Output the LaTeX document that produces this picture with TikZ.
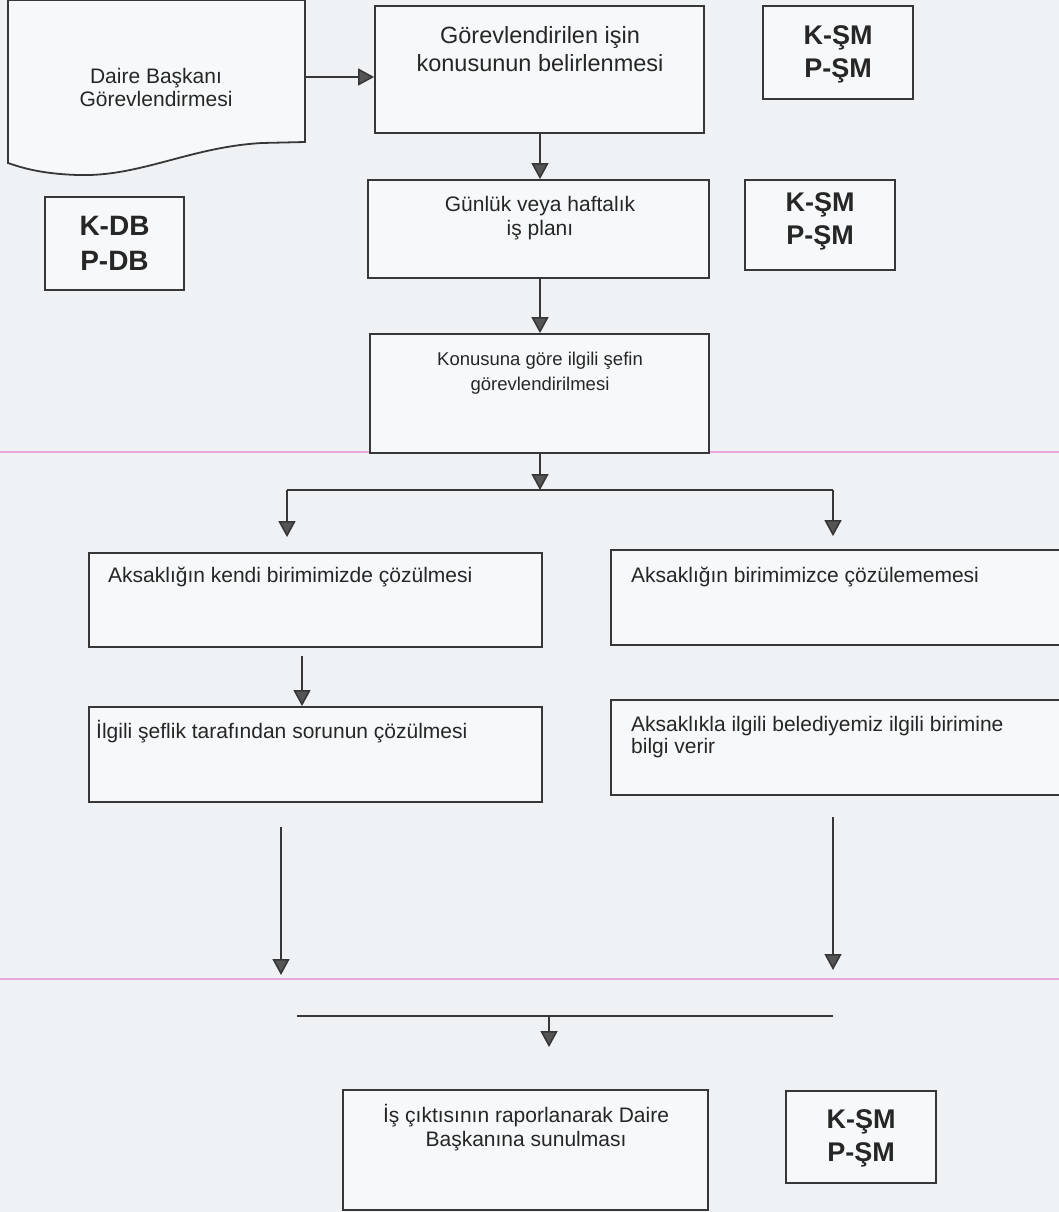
\documentclass[tikz,border=0pt]{standalone}
\usepackage{fontspec}
\setmainfont{Liberation Sans}
\usetikzlibrary{arrows.meta}
\definecolor{bg}{RGB}{239,242,245}
\definecolor{boxfill}{RGB}{247,248,249}
\definecolor{linec}{RGB}{55,55,55}
\definecolor{tipc}{RGB}{85,85,85}
\definecolor{txt}{RGB}{38,38,38}
\definecolor{pinkline}{RGB}{234,165,220}
\begin{document}
\begin{tikzpicture}[x=1pt,y=-1pt,
  boxst/.style={draw=linec, fill=boxfill, line width=1.8pt, inner sep=0pt},
  arr/.style={draw=linec, line width=1.6pt, -{Triangle[width=17pt,length=16pt,fill=tipc]}},
  ln/.style={draw=linec, line width=1.6pt},
  txtst/.style={text=txt, inner sep=0pt, font=\fontsize{21}{23}\selectfont},
  codest/.style={text=txt, inner sep=0pt, align=center, font=\fontsize{27}{33}\selectfont\bfseries}]
\useasboundingbox (0,0) rectangle (1059,1212);
\fill[bg] (0,0) rectangle (1059,1212);
\clip (0,0) rectangle (1059,1212);
% scan lines
\draw[pinkline, line width=1.2pt] (0,452) -- (1059,452);
\draw[pinkline, line width=1.2pt] (0,979) -- (1059,979);
% document shape
\node[inner sep=0pt, minimum width=297pt, minimum height=154pt] (doc) at (156.5,77) {};
\draw[draw=linec, fill=boxfill, line width=1.8pt]
  (8,0) -- (305,0) -- (305,142) -- (262,143)
  .. controls (190,147) and (140,177) .. (78,175)
  .. controls (45,174) and (25,169) .. (8,163) -- cycle;
\node[txtst, align=center] (doct) at (156,87) {Daire Başkanı\\Görevlendirmesi};
% main column
\node[boxst, minimum width=329pt, minimum height=127pt] (b1) at (539.5,69.5) {};
\node[txtst, align=center, font=\fontsize{23.5}{28}\selectfont] (b1t) at (540,49) {Görevlendirilen işin\\konusunun belirlenmesi};
\node[boxst, minimum width=341pt, minimum height=98pt] (b2) at (538.5,229) {};
\node[txtst, align=center, font=\fontsize{21}{24}\selectfont] (b2t) at (540,218) {Günlük veya haftalık\\iş planı};
\node[boxst, minimum width=339pt, minimum height=119pt] (b3) at (539.5,393.5) {};
\node[txtst, align=center, font=\fontsize{18.5}{25}\selectfont] (b3t) at (540,373) {Konusuna göre ilgili şefin\\görevlendirilmesi};
% code boxes
\node[boxst, minimum width=150pt, minimum height=93pt] (k1) at (838,52.5) {};
\node[codest] (k1t) at (838,54) {K-ŞM\\P-ŞM};
\node[boxst, minimum width=150pt, minimum height=90pt] (k2) at (820,225) {};
\node[codest] (k2t) at (820,221) {K-ŞM\\P-ŞM};
\node[boxst, minimum width=139pt, minimum height=93pt] (kdb) at (114.5,243.5) {};
\node[codest, font=\fontsize{28}{35}\selectfont\bfseries] (kdbt) at (114.5,243) {K-DB\\P-DB};
% branches
\node[boxst, minimum width=453pt, minimum height=94pt] (bl1) at (315.5,600) {};
\node[txtst, anchor=west] (bl1t) at (108,577) {Aksaklığın kendi birimimizde çözülmesi};
\node[boxst, minimum width=459pt, minimum height=95pt] (br1) at (840.5,597.5) {};
\node[txtst, anchor=west] (br1t) at (631,577) {Aksaklığın birimimizce çözülememesi};
\node[boxst, minimum width=453pt, minimum height=95pt] (bl2) at (315.5,754.5) {};
\node[txtst, anchor=west] (bl2t) at (96,732) {İlgili şeflik tarafından sorunun çözülmesi};
\node[boxst, minimum width=459pt, minimum height=95pt] (br2) at (840.5,747.5) {};
\node[txtst, anchor=north west, align=left, font=\fontsize{21}{22.5}\selectfont] (br2t) at (631,716) {Aksaklıkla ilgili belediyemiz ilgili birimine\\bilgi verir};
% final
\node[boxst, minimum width=365pt, minimum height=120pt] (fin) at (525.5,1150) {};
\node[txtst, align=center, font=\fontsize{21}{24}\selectfont] (fint) at (526,1128) {İş çıktısının raporlanarak Daire\\Başkanına sunulması};
\node[boxst, minimum width=150pt, minimum height=92pt] (k3) at (861,1137) {};
\node[codest] (k3t) at (861,1138) {K-ŞM\\P-ŞM};
% coordinates
\coordinate (brL) at (287,490);
\coordinate (brM) at (540,490);
\coordinate (brR) at (833,490);
\coordinate (dl) at (281,827);
\coordinate (dr) at (833,817);
\coordinate (mL) at (297,1016);
\coordinate (mM) at (549,1016);
\coordinate (mR) at (833,1016);
% connectors
\draw[arr] (doc.east |- 0,77) -- (b1.west |- 0,77);
\draw[arr] (b1.south -| brM) -- (b2.north -| brM);
\draw[arr] (b2.south -| brM) -- (b3.north -| brM);
\draw[arr] (b3.south -| brM) -- (brM);
\draw[ln] (brL) -- (brR);
\draw[arr, shorten >=15pt] (brL) -- (brL |- bl1.north);
\draw[arr, shorten >=13pt] (brR) -- (brR |- br1.north);
\draw[arr, shorten <=8pt] (bl1.south -| 302,0) -- (bl2.north -| 302,0);
\draw[arr, shorten >=41pt] (dl) -- (dl |- mL);
\draw[arr, shorten >=46pt] (dr) -- (dr |- mR);
\draw[ln] (mL) -- (mR);
\draw[arr, shorten >=42pt] (mM) -- (mM |- fin.north);
\end{tikzpicture}
\end{document}
